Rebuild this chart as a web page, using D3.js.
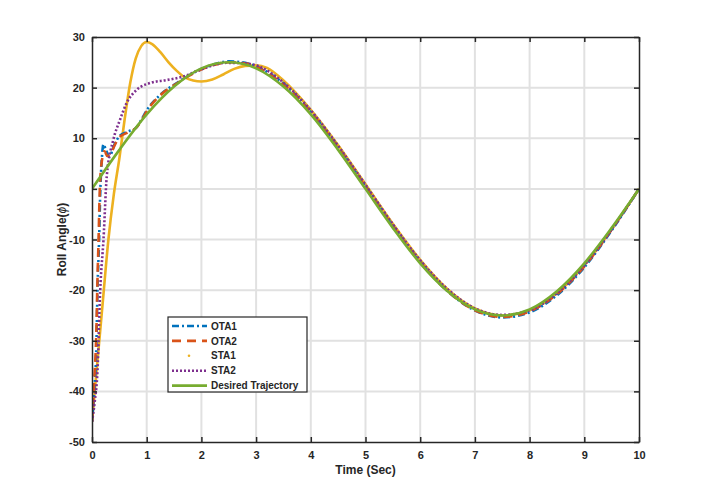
<!DOCTYPE html>
<html>
<head>
<meta charset="utf-8">
<script src="https://cdn.jsdelivr.net/npm/d3@7"></script>
<style>
  body { margin: 0; background: #fff; }
  text { font-family: "Liberation Sans", Arial, sans-serif; font-weight: bold; fill: #262626; }
</style>
</head>
<body>
<div id="chart"></div>
<script>
// set dimensions for frame and margins
const FRAME_WIDTH = 706;
const FRAME_HEIGHT = 496;
const MARGINS = {left: 92, right: 67, top: 37, bottom: 54};
const VIS_WIDTH = FRAME_WIDTH - MARGINS.left - MARGINS.right;
const VIS_HEIGHT = FRAME_HEIGHT - MARGINS.top - MARGINS.bottom;

// tick values
const X_TICKS = [0, 1, 2, 3, 4, 5, 6, 7, 8, 9, 10];
const Y_TICKS = [-50, -40, -30, -20, -10, 0, 10, 20, 30];

// series names (legend order)
const NAMES = ["OTA1", "OTA2", "STA1", "STA2", "Desired Trajectory"];

// values: [time, roll angle]
const OTA1 = [[0,-46],[0.04,-40],[0.08,-31],[0.1,-20],[0.13,-10],[0.15,-1],[0.18,6],[0.21,8.8],[0.25,7.8],
  [0.32,6.4],[0.4,8.5],[0.5,10.4],[0.65,11.3],[0.8,12],[0.9,13.6],[1.0,15.5],[1.25,18.6],[1.55,20.9],
  [1.85,22.9],[2.2,24.5],[2.5,25.2],[2.8,24.9],[3,24.2],[3.5,20.8],[4,15.2],[4.5,8.2],[5,0.5],[5.5,-7.3],
  [6,-14.4],[6.5,-20.2],[7,-24.0],[7.5,-25.4],[8,-24.4],[8.5,-21.0],[9,-15.5],[9.5,-8.2],[10,0]];
const OTA2 = [[0,-46],[0.04,-38],[0.08,-28],[0.1,-18],[0.12,-10],[0.14,-1],[0.18,5.5],[0.23,7.4],[0.28,6.5],
  [0.34,6.8],[0.4,8.3],[0.5,10.2],[0.65,11.1],[0.8,12],[0.9,13.4],[1.0,15.3],[1.25,18.5],[1.55,20.8],
  [1.85,22.8],[2.2,24.4],[2.5,25.0],[2.8,24.8],[3,24.1],[3.5,20.6],[4,15.1],[4.5,8.1],[5,0.4],[5.5,-7.4],
  [6,-14.5],[6.5,-20.2],[7,-24.0],[7.5,-25.3],[8,-24.2],[8.5,-20.8],[9,-15.3],[9.5,-8.0],[10,0]];
const STA1 = [[0,-46],[0.1,-34],[0.2,-22],[0.3,-10],[0.4,-1],[0.5,6],[0.6,14],[0.7,21],[0.8,25.8],[0.9,28.2],
  [1.0,29.0],[1.1,28.6],[1.25,27],[1.4,25],[1.55,23.3],[1.7,22],[1.85,21.4],[2.0,21.2],[2.2,21.6],[2.4,22.6],
  [2.6,23.7],[2.8,24.3],[3,24.4],[3.2,23.9],[3.5,21.4],[4,15.6],[4.5,8.6],[5,0.9],[5.5,-6.9],[6,-14.0],
  [6.5,-19.8],[7,-23.6],[7.5,-25.0],[8,-24.0],[8.5,-20.6],[9,-15.1],[9.5,-8.0],[10,0]];
const STA2 = [[0,-46],[0.05,-42],[0.1,-36],[0.15,-20],[0.21,-10],[0.27,2.5],[0.39,9.7],[0.51,13.6],[0.63,16.9],
  [0.82,19.6],[1.06,20.9],[1.37,21.5],[1.67,22.2],[1.97,23.5],[2.46,24.9],[2.8,24.8],[3,24.4],[3.5,21.0],
  [4,15.5],[4.5,8.5],[5,0.8],[5.5,-7.0],[6,-14.1],[6.5,-19.8],[7,-23.6],[7.5,-24.9],[8,-24.0],[8.5,-20.6],
  [9,-15.1],[9.5,-8.0],[10,0]];
const DESIRED = [[0,0],[0.5,7.7],[1,14.7],[1.5,20.2],[2,23.8],[2.5,25],[3,23.8],[3.5,20.2],[4,14.7],[4.5,7.7],
  [5,0],[5.5,-7.7],[6,-14.7],[6.5,-20.2],[7,-23.8],[7.5,-25],[8,-23.8],[8.5,-20.2],[9,-14.7],[9.5,-7.7],[10,0]];

// line styles for each series
const STYLES = [
  {data: OTA1, color: "#0072BD", dash: "7,3,2,3"},
  {data: OTA2, color: "#D95319", dash: "9,6"},
  {data: STA1, color: "#EDB120", dash: null},
  {data: STA2, color: "#7E2F8E", dash: "2,2"},
  {data: DESIRED, color: "#77AC30", dash: null}
];

const FRAME1 = d3.select("#chart")
  .append("svg")
    .attr("width", FRAME_WIDTH)
    .attr("height", FRAME_HEIGHT);

FRAME1.append("rect").attr("width", FRAME_WIDTH).attr("height", FRAME_HEIGHT).attr("fill", "#fff");

const X_SCALE = d3.scaleLinear().domain([0, 10]).range([0, VIS_WIDTH]);
const Y_SCALE = d3.scaleLinear().domain([-50, 30]).range([VIS_HEIGHT, 0]);

const PLOT = FRAME1.append("g")
  .attr("transform", "translate(" + MARGINS.left + "," + MARGINS.top + ")");

// grid
PLOT.append("g").selectAll("line").data(X_TICKS.slice(1, -1)).enter().append("line")
  .attr("x1", d => X_SCALE(d)).attr("x2", d => X_SCALE(d))
  .attr("y1", 0).attr("y2", VIS_HEIGHT)
  .attr("stroke", "#e1e1e1").attr("stroke-width", 2);
PLOT.append("g").selectAll("line").data(Y_TICKS.slice(1, -1)).enter().append("line")
  .attr("y1", d => Y_SCALE(d)).attr("y2", d => Y_SCALE(d))
  .attr("x1", 0).attr("x2", VIS_WIDTH)
  .attr("stroke", "#e1e1e1").attr("stroke-width", 2);

// clip so the lines stay inside the box
PLOT.append("clipPath").attr("id", "clip")
  .append("rect").attr("width", VIS_WIDTH).attr("height", VIS_HEIGHT);

const LINE = d3.line()
  .x(d => X_SCALE(d[0]))
  .y(d => Y_SCALE(d[1]))
  .curve(d3.curveMonotoneX);

// draw series (yellow first so dashed ones stay visible on top)
const DRAW_ORDER = [2, 0, 1, 3, 4];
DRAW_ORDER.forEach(i => {
  const s = STYLES[i];
  PLOT.append("path")
    .datum(s.data)
    .attr("clip-path", "url(#clip)")
    .attr("d", LINE)
    .attr("fill", "none")
    .attr("stroke", s.color)
    .attr("stroke-width", 2.6)
    .attr("stroke-dasharray", s.dash);
});

// plain hyphen for negatives, like the original
const fmt = d => String(d);

// axes with inward ticks
const xBottom = PLOT.append("g")
  .attr("transform", "translate(0," + VIS_HEIGHT + ")")
  .call(d3.axisBottom(X_SCALE).tickValues(X_TICKS).tickFormat(fmt).tickSizeInner(-5).tickSizeOuter(0).tickPadding(9));
const xTop = PLOT.append("g")
  .call(d3.axisTop(X_SCALE).tickValues(X_TICKS).tickSizeInner(-5).tickSizeOuter(0).tickFormat(""));
const yLeft = PLOT.append("g")
  .call(d3.axisLeft(Y_SCALE).tickValues(Y_TICKS).tickFormat(fmt).tickSizeInner(-5).tickSizeOuter(0).tickPadding(7));
const yRight = PLOT.append("g")
  .attr("transform", "translate(" + VIS_WIDTH + ",0)")
  .call(d3.axisRight(Y_SCALE).tickValues(Y_TICKS).tickSizeInner(-5).tickSizeOuter(0).tickFormat(""));

[xBottom, xTop, yLeft, yRight].forEach(a => {
  a.select(".domain").attr("stroke", "#262626").attr("stroke-width", 1.5);
  a.selectAll(".tick line").attr("stroke", "#262626").attr("stroke-width", 1.5);
  a.selectAll("text").attr("font-size", "11px").attr("font-weight", "bold")
    .attr("font-family", "Liberation Sans, Arial, sans-serif").attr("fill", "#262626");
});

// axis labels
FRAME1.append("text")
  .attr("x", MARGINS.left + VIS_WIDTH / 2)
  .attr("y", 474)
  .attr("text-anchor", "middle")
  .attr("font-size", "12px")
  .text("Time (Sec)");

const yLabel = FRAME1.append("text")
  .attr("transform", "translate(66," + (MARGINS.top + VIS_HEIGHT / 2) + ") rotate(-90)")
  .attr("text-anchor", "middle")
  .attr("font-size", "12px");
yLabel.append("tspan").text("Roll Angle(");
yLabel.append("tspan").attr("font-style", "italic").attr("font-weight", "normal").text("\u03D5");
yLabel.append("tspan").text(")");

// legend
const LEGEND = FRAME1.append("g").attr("transform", "translate(168,317)");
LEGEND.append("rect")
  .attr("width", 139).attr("height", 75)
  .attr("fill", "#fff").attr("stroke", "#262626").attr("stroke-width", 1.2);

NAMES.forEach((name, i) => {
  const s = STYLES[i];
  const yy = 9 + i * 14.9;
  if (name === "STA1") {
    LEGEND.append("circle").attr("cx", 21).attr("cy", yy).attr("r", 1.3).attr("fill", s.color);
  } else {
    LEGEND.append("line")
      .attr("x1", 4).attr("x2", 39).attr("y1", yy).attr("y2", yy)
      .attr("stroke", s.color).attr("stroke-width", 2.6)
      .attr("stroke-dasharray", s.dash);
  }
  LEGEND.append("text")
    .attr("x", 43).attr("y", yy + 3.6)
    .attr("font-size", "10px")
    .text(name);
});
</script>
</body>
</html>
